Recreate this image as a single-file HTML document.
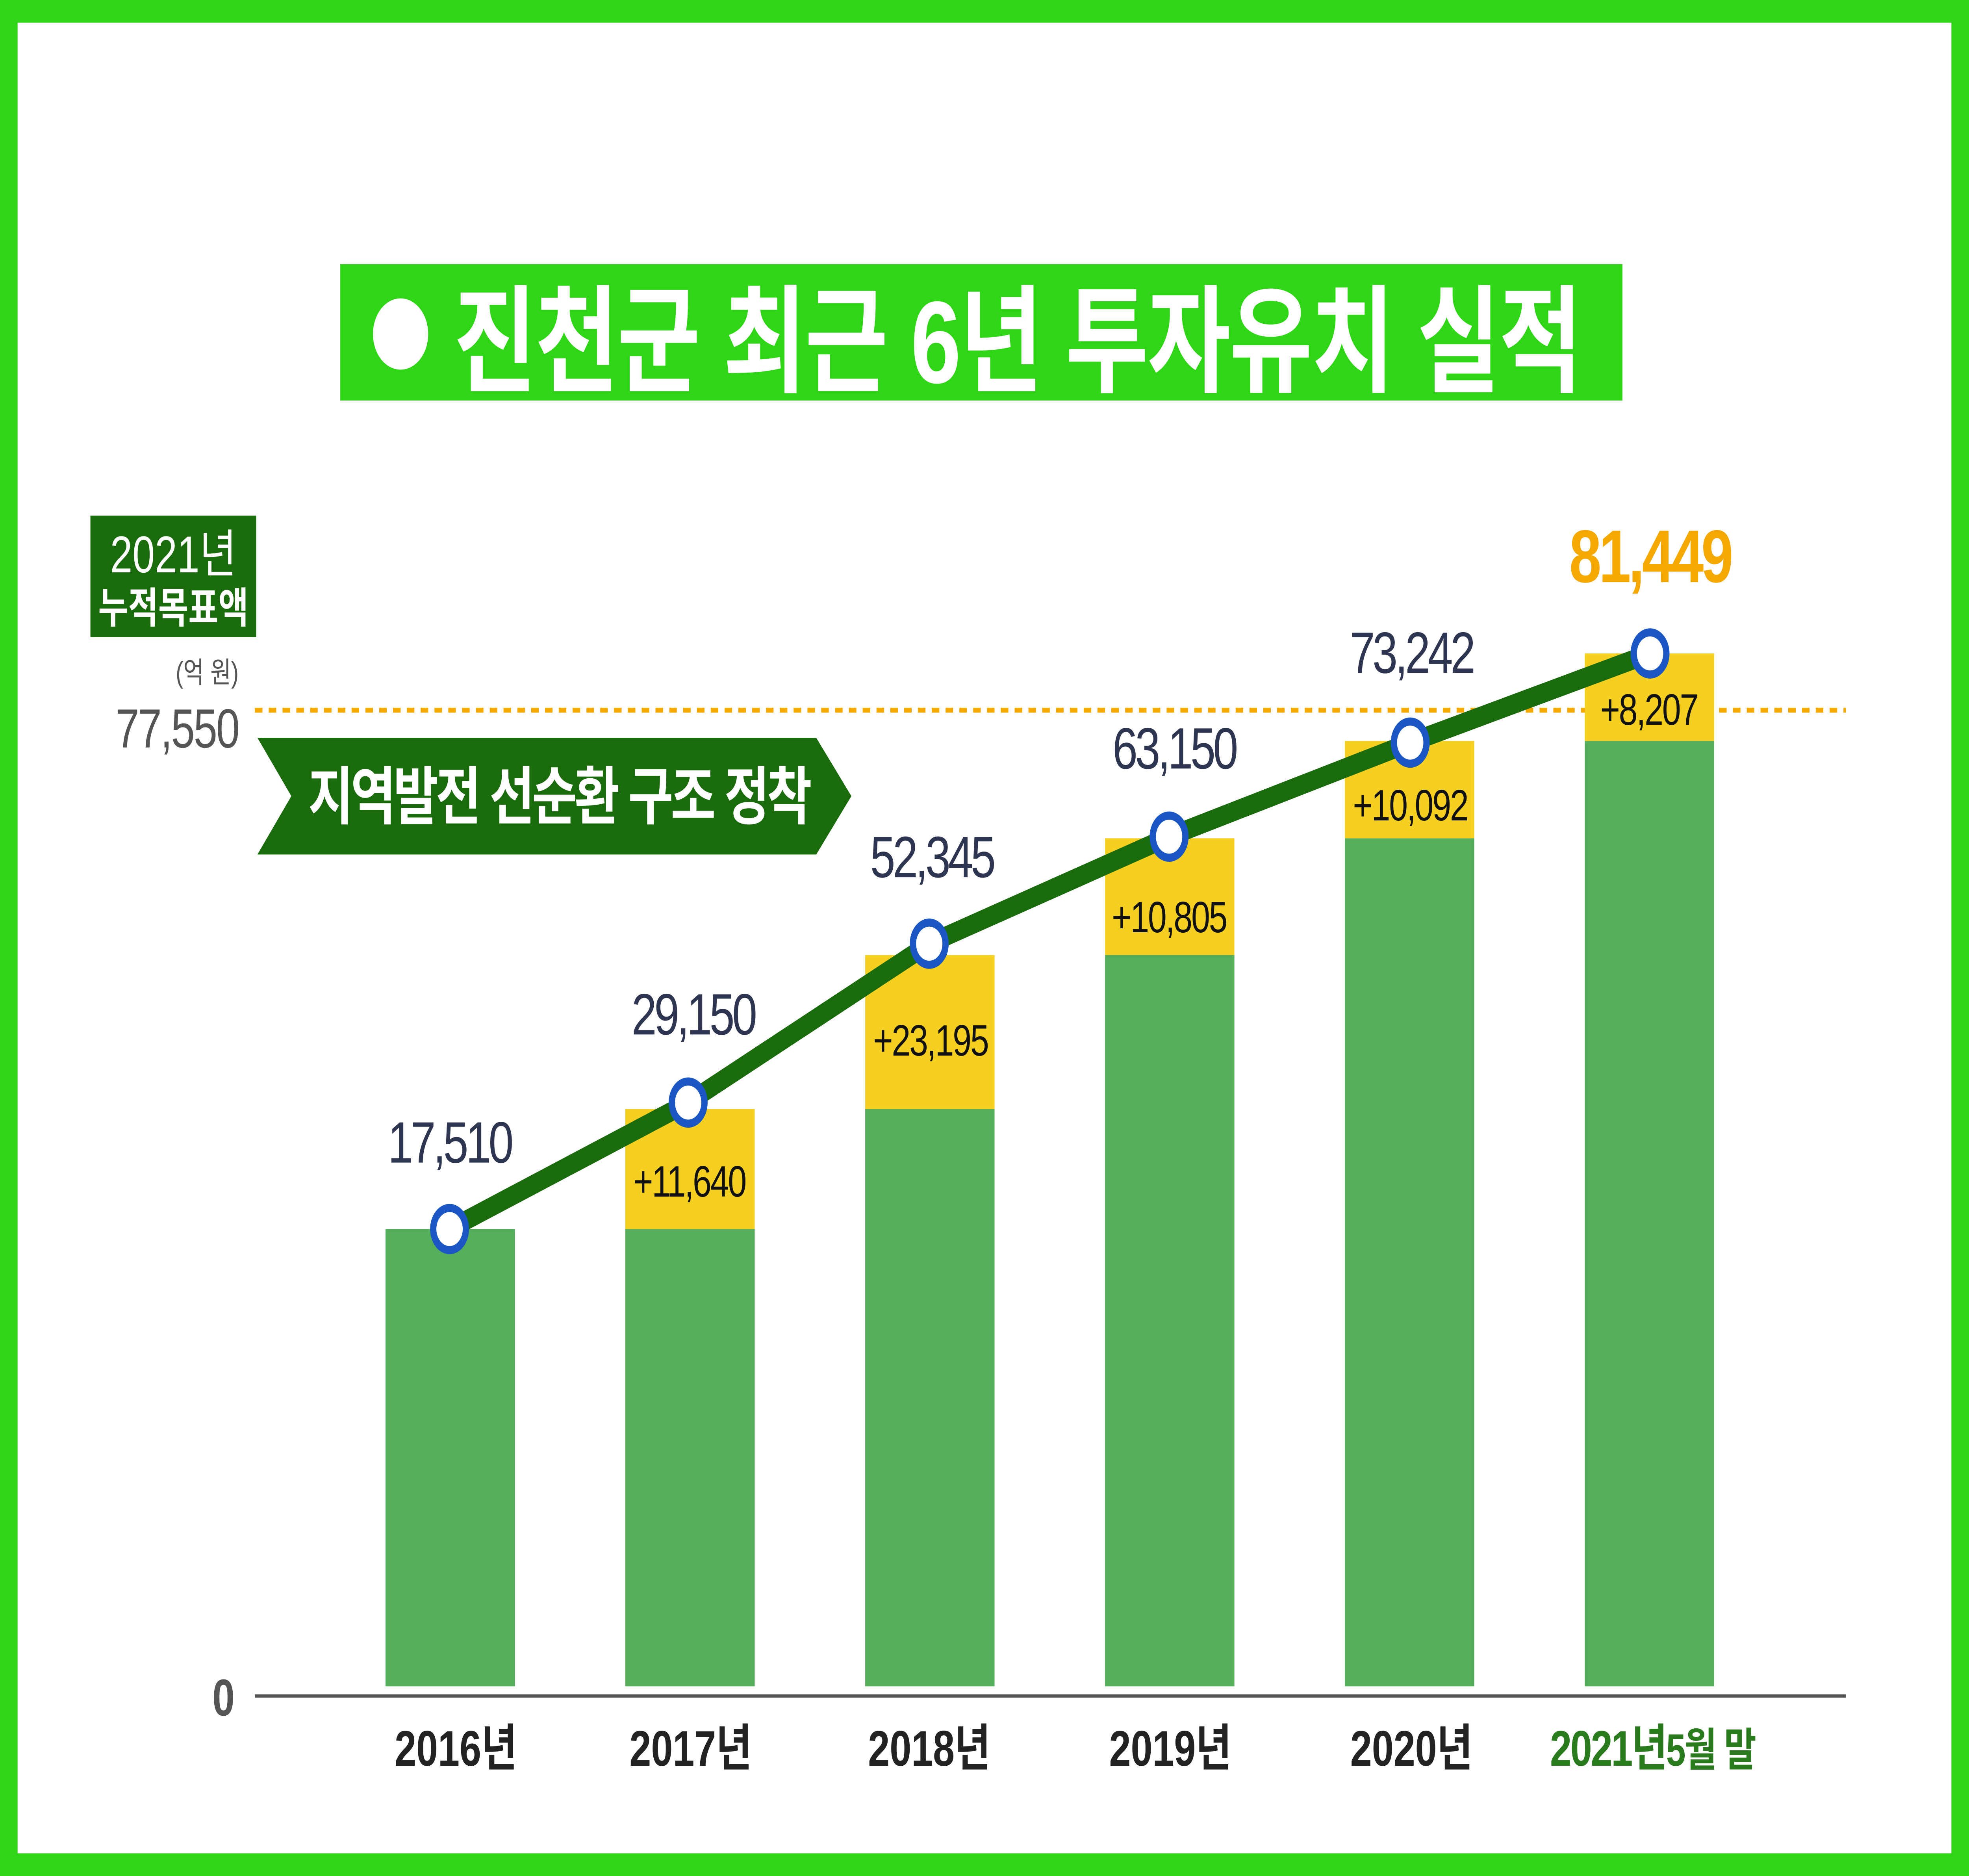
<!DOCTYPE html>
<html><head><meta charset="utf-8"><style>
html,body{margin:0;padding:0;background:#fff;overflow:hidden;width:100vw;height:100vh}
svg{display:block;width:100vw;height:100vh}
text{font-family:"Liberation Sans","Noto Sans CJK KR",sans-serif}
</style></head><body>
<svg viewBox="0 0 1568 1157" preserveAspectRatio="none" xmlns="http://www.w3.org/2000/svg">
<rect x="0" y="0" width="1568" height="1157" fill="#2ed616"/>
<rect x="14" y="14" width="1540" height="1129" fill="#fff"/>
<rect x="271" y="163" width="1021" height="84" fill="#2ed616"/>
<circle cx="319" cy="206" r="22" fill="#fff"/>
<text x="810" y="236" text-anchor="middle" font-size="72" font-weight="bold" fill="#fff" letter-spacing="-1">진천군 최근 6년 투자유치 실적</text>
<rect x="72" y="318" width="132" height="75" fill="#1a6b0c"/>
<text x="138" y="353" text-anchor="middle" font-size="32" fill="#fff">2021년</text>
<text x="138" y="384" text-anchor="middle" font-size="26" font-weight="bold" fill="#fff">누적목표액</text>
<text x="165" y="421" text-anchor="middle" font-size="18" fill="#555">(억 원)</text>
<text x="190" y="461" text-anchor="end" font-size="34" fill="#555" letter-spacing="-1">77,550</text>
<line x1="203" y1="438" x2="1470" y2="438" stroke="#f5a800" stroke-width="3" stroke-dasharray="6,5"/>
<polygon points="205,455 650,455 678,491 650,527 205,527 232,491" fill="#1a6b0c"/>
<text x="445" y="505" text-anchor="middle" font-size="39" font-weight="bold" fill="#fff" letter-spacing="-2">지역발전 선순환 구조 정착</text>
<g fill="#54ae5b">
<rect x="307" y="758" width="103" height="282"/>
<rect x="498" y="758" width="103" height="282"/>
<rect x="689" y="684" width="103" height="356"/>
<rect x="880" y="589" width="103" height="451"/>
<rect x="1071" y="517" width="103" height="523"/>
<rect x="1262" y="457" width="103" height="583"/>
</g>
<g fill="#f5d020">
<rect x="498" y="684" width="103" height="74"/>
<rect x="689" y="589" width="103" height="95"/>
<rect x="880" y="517" width="103" height="72"/>
<rect x="1071" y="457" width="103" height="60"/>
<rect x="1262" y="403" width="103" height="54"/>
</g>
<line x1="203" y1="1046" x2="1470" y2="1046" stroke="#555" stroke-width="2"/>
<text x="178" y="1058" text-anchor="middle" font-size="32" font-weight="bold" fill="#555">0</text>
<polyline points="358,758 548,680 740,582 931,516 1123,458 1314,403" fill="none" stroke="#1a6b0c" stroke-width="12"/>
<g fill="#fff" stroke="#1a56c4" stroke-width="5">
<circle cx="358" cy="758" r="13"/><circle cx="548" cy="680" r="13"/><circle cx="740" cy="582" r="13"/>
<circle cx="931" cy="516" r="13"/><circle cx="1123" cy="458" r="13"/><circle cx="1314" cy="403" r="13"/>
</g>
<g font-size="36" fill="#2d3550" text-anchor="middle" letter-spacing="-2">
<text x="358" y="717">17,510</text><text x="552" y="638">29,150</text><text x="742" y="541">52,345</text>
<text x="935" y="474">63,150</text><text x="1124" y="415">73,242</text>
</g>
<text x="1314" y="359" text-anchor="middle" font-size="46" font-weight="bold" fill="#f5a800" letter-spacing="-2">81,449</text>
<g font-size="27" fill="#111" text-anchor="middle" letter-spacing="-1">
<text x="549" y="738">+11,640</text><text x="741" y="651">+23,195</text><text x="931" y="575">+10,805</text>
<text x="1123" y="506">+10,092</text><text x="1313" y="447">+8,207</text>
</g>
<g font-size="31" font-weight="bold" fill="#222" text-anchor="middle">
<text x="363" y="1089">2016년</text><text x="550" y="1089">2017년</text><text x="740" y="1089">2018년</text>
<text x="932" y="1089">2019년</text><text x="1124" y="1089">2020년</text>
</g>
<text x="1316" y="1089" text-anchor="middle" font-size="31" font-weight="bold" fill="#2a7a1e" letter-spacing="-1">2021년<tspan font-size="28">5월 말</tspan></text>
</svg>
</body></html>
